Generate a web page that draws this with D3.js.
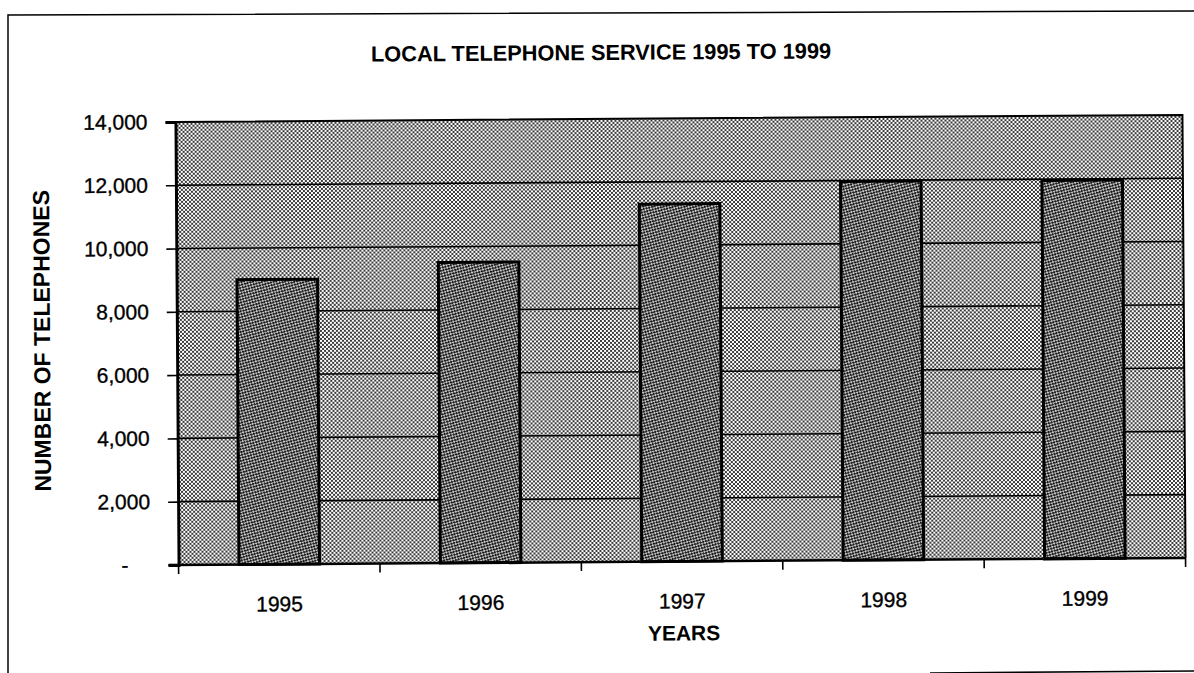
<!DOCTYPE html>
<html>
<head>
<meta charset="utf-8">
<script src="https://cdn.jsdelivr.net/npm/d3@7"></script>
<style>
  html, body { margin: 0; padding: 0; background: #fff; }
  svg { display: block; }
  text { font-family: "Liberation Sans", Arial, sans-serif; fill: #000; }
</style>
</head>
<body>
<svg id="chart" width="1194" height="673"></svg>
<script>
// ---- data ----
const categories = ["1995", "1996", "1997", "1998", "1999"];
const telephones = [9000, 9500, 11300, 11970, 11960];
const yTickValues = [0, 2000, 4000, 6000, 8000, 10000, 12000, 14000];
const titleText = "LOCAL TELEPHONE SERVICE 1995 TO 1999";
const xTitle = "YEARS";
const yTitle = "NUMBER OF TELEPHONES";

// ---- layout ----
const W = 1194, H = 673;
const plot = { left: 177, right: 1184, top: 119, bottom: 562 };

const svg = d3.select("#chart");
const defs = svg.append("defs");

// background dither pattern
const bgPat = defs.append("pattern")
  .attr("id", "bgPat").attr("patternUnits", "userSpaceOnUse")
  .attr("width", 4).attr("height", 4);
bgPat.append("rect").attr("width", 4).attr("height", 4).attr("fill", "#ffffff");
bgPat.append("rect").attr("x", 0).attr("y", 0).attr("width", 2).attr("height", 2).attr("fill", "#3a3a3a");
bgPat.append("rect").attr("x", 2).attr("y", 2).attr("width", 2).attr("height", 2).attr("fill", "#3a3a3a");

// bar pattern (darker, diagonal)
const barPat = defs.append("pattern")
  .attr("id", "barPat").attr("patternUnits", "userSpaceOnUse")
  .attr("width", 4).attr("height", 4)
  .attr("patternTransform", "rotate(30)");
barPat.append("rect").attr("width", 4).attr("height", 4).attr("fill", "#c8c8c8");
barPat.append("rect").attr("x", 0).attr("y", 0).attr("width", 2).attr("height", 2).attr("fill", "#1a1a1a");
barPat.append("rect").attr("x", 2).attr("y", 2).attr("width", 2).attr("height", 2).attr("fill", "#1a1a1a");
barPat.append("rect").attr("x", 2).attr("y", 0).attr("width", 1).attr("height", 1).attr("fill", "#555");

// outer frame (scanned page border)
const frame = svg.append("g").attr("fill", "none").attr("stroke", "#000").attr("stroke-width", 1.5);
frame.append("path").attr("d", "M8,673 L8,15 L1194,11");
frame.append("path").attr("d", "M930,673 L1194,671");

// whole scanned chart is slightly tilted
const g = svg.append("g").attr("transform", "rotate(-0.4, 597, 340)");

// scales
const x = d3.scaleBand().domain(categories)
  .range([plot.left, plot.right]).paddingInner(0.6).paddingOuter(0.3);
const xb = d3.scaleBand().domain(categories).range([plot.left, plot.right]);
const y = d3.scaleLinear().domain([0, 14000]).range([plot.bottom, plot.top]);

// plot background
g.append("rect")
  .attr("x", plot.left).attr("y", plot.top)
  .attr("width", plot.right - plot.left).attr("height", plot.bottom - plot.top)
  .attr("fill", "url(#bgPat)");

// gridlines
g.append("g").selectAll("line")
  .data(yTickValues.filter(d => d > 0 && d < 14000))
  .join("line")
  .attr("x1", plot.left).attr("x2", plot.right)
  .attr("y1", d => y(d)).attr("y2", d => y(d))
  .attr("stroke", "#000").attr("stroke-width", 1.6);

// bars
g.append("g").selectAll("rect")
  .data(categories.map((c, i) => ({ c, v: telephones[i] })))
  .join("rect")
  .attr("x", d => x(d.c)).attr("width", x.bandwidth())
  .attr("y", d => y(d.v)).attr("height", d => y(0) - y(d.v))
  .attr("fill", "url(#barPat)")
  .attr("stroke", "#000").attr("stroke-width", 3);

// plot border (top/right)
g.append("path")
  .attr("d", `M${plot.left},${plot.top}H${plot.right}V${plot.bottom}`)
  .attr("fill", "none").attr("stroke", "#000").attr("stroke-width", 2);

// y axis
const yAxis = d3.axisLeft(y).tickValues(yTickValues).tickSize(10).tickPadding(18)
  .tickFormat(d => d === 0 ? "-" : d3.format(",")(d));
const yg = g.append("g").attr("transform", `translate(${plot.left},0)`).call(yAxis);
yg.select(".domain").attr("stroke", "#000").attr("stroke-width", 3);
yg.selectAll(".tick line").attr("stroke", "#000").attr("stroke-width", 1.6);
yg.selectAll(".tick text")
  .attr("font-size", 21).attr("fill", "#000")
  .attr("stroke", "#000").attr("stroke-width", 0.35)
  .attr("font-family", "'Liberation Sans', Arial, sans-serif")
  .attr("dx", d => d === 0 ? -22 : 0);

// x axis (ticks at band boundaries)
const xAxisLine = g.append("g");
xAxisLine.append("line")
  .attr("x1", plot.left - 10).attr("x2", plot.right)
  .attr("y1", plot.bottom).attr("y2", plot.bottom)
  .attr("stroke", "#000").attr("stroke-width", 2.5);
const boundaries = categories.map(c => xb(c)).concat([plot.right]);
xAxisLine.selectAll("line.tk").data(boundaries).join("line").attr("class", "tk")
  .attr("x1", d => d).attr("x2", d => d)
  .attr("y1", plot.bottom).attr("y2", plot.bottom + 9)
  .attr("stroke", "#000").attr("stroke-width", 1.6);
xAxisLine.selectAll("text").data(categories).join("text")
  .attr("x", d => xb(d) + xb.bandwidth() / 2)
  .attr("y", plot.bottom + 47)
  .attr("text-anchor", "middle").attr("font-size", 21)
  .attr("stroke", "#000").attr("stroke-width", 0.35)
  .text(d => d);

// titles
g.append("text").attr("x", 603).attr("y", 60)
  .attr("text-anchor", "middle").attr("font-size", 21.8).attr("font-weight", "bold")
  .text(titleText);
g.append("text").attr("x", 682).attr("y", 641)
  .attr("text-anchor", "middle").attr("font-size", 21).attr("font-weight", "bold")
  .text(xTitle);
g.append("text")
  .attr("transform", `translate(50,337) rotate(-90)`)
  .attr("text-anchor", "middle").attr("font-size", 23).attr("font-weight", "bold")
  .text(yTitle);
</script>
</body>
</html>
